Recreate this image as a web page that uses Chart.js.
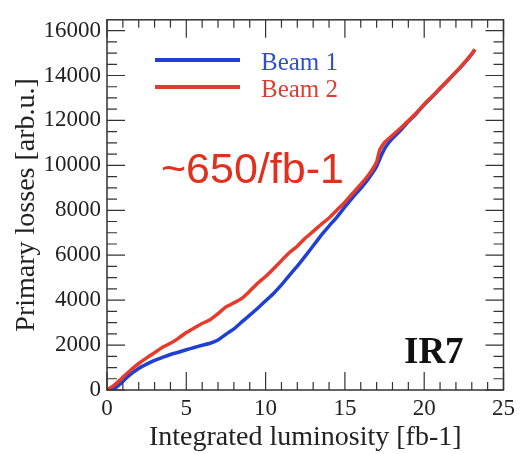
<!DOCTYPE html>
<html>
<head>
<meta charset="utf-8">
<script src="https://cdn.jsdelivr.net/npm/chart.js@4/dist/chart.umd.min.js"></script>
<style>
  html, body { margin: 0; padding: 0; background: #fff; }
  #wrap { width: 520px; height: 454px; }
</style>
</head>
<body>
<div id="wrap"><canvas id="c" width="520" height="454"></canvas></div>
<script>
// Beam 1 (blue) - integrated luminosity vs primary losses
const beam1Lumi = [0, 0.4, 0.8, 1.2, 1.6, 2, 2.5, 3, 3.5, 4, 4.5, 5, 5.5, 6, 6.5, 7, 7.5, 8, 8.5, 9, 9.5, 10, 10.5, 11, 11.5, 12, 12.5, 13, 13.5, 14, 14.5, 15, 15.5, 16, 16.5, 17, 17.3, 17.6, 18, 18.5, 19, 19.5, 20, 20.5, 21, 21.5, 22, 22.5, 23, 23.2];
const beam1Loss = [0, 40, 250, 520, 760, 960, 1150, 1320, 1450, 1580, 1680, 1790, 1890, 1990, 2080, 2230, 2480, 2720, 3030, 3330, 3640, 3970, 4300, 4680, 5100, 5520, 5960, 6420, 6880, 7300, 7700, 8150, 8580, 8980, 9420, 9950, 10450, 10850, 11200, 11550, 11950, 12300, 12700, 13050, 13420, 13780, 14150, 14530, 14950, 15150];

// Beam 2 (red)
const beam2Lumi = [0, 0.4, 0.8, 1.2, 1.6, 2, 2.5, 3, 3.5, 4, 4.5, 5, 5.5, 6, 6.5, 7, 7.5, 8, 8.5, 9, 9.5, 10, 10.5, 11, 11.5, 12, 12.5, 13, 13.5, 14, 14.5, 15, 15.5, 16, 16.5, 17, 17.2, 17.5, 18, 18.5, 19, 19.5, 20, 20.5, 21, 21.5, 22, 22.5, 23, 23.2];
const beam2Loss = [0, 180, 430, 700, 950, 1180, 1430, 1660, 1900, 2080, 2300, 2560, 2760, 2960, 3130, 3400, 3700, 3880, 4080, 4400, 4750, 5050, 5400, 5760, 6120, 6400, 6760, 7060, 7370, 7660, 8010, 8360, 8760, 9150, 9580, 10150, 10700, 11020, 11340, 11650, 11980, 12330, 12720, 13070, 13430, 13790, 14160, 14540, 14960, 15170];

const xTicks = [0, 5, 10, 15, 20, 25];
const yTicks = [0, 2000, 4000, 6000, 8000, 10000, 12000, 14000, 16000];
const seriesNames = ['Beam 1', 'Beam 2'];

const BLUE = '#2040d4';
const RED = '#e63a2b';
const INK = '#222';
const SERIF = '"Liberation Serif", "DejaVu Serif", serif';

function toPoints(xs, ys) {
  return xs.map((x, i) => ({ x: x, y: ys[i] }));
}

// frame with inward ticks on all four sides, plus legend and labels
const framePlugin = {
  id: 'frame',
  afterDraw(chart) {
    const ctx = chart.ctx;
    const a = chart.chartArea;
    const xs = chart.scales.x, ys = chart.scales.y;
    ctx.save();
    ctx.strokeStyle = '#333';
    ctx.lineWidth = 1.5;
    ctx.strokeRect(a.left, a.top, a.right - a.left, a.bottom - a.top);
    ctx.lineWidth = 1.2;
    ctx.beginPath();
    for (let v = 0; v <= 25; v += 1) {
      const px = xs.getPixelForValue(v);
      const len = v % 5 === 0 ? 18 : 8;
      ctx.moveTo(px, a.bottom); ctx.lineTo(px, a.bottom - len);
      ctx.moveTo(px, a.top); ctx.lineTo(px, a.top + len);
    }
    for (let v = 0; v <= 16000; v += 500) {
      const py = ys.getPixelForValue(v);
      const len = v % 2000 === 0 ? 18 : 10;
      ctx.moveTo(a.left, py); ctx.lineTo(a.left + len, py);
      ctx.moveTo(a.right, py); ctx.lineTo(a.right - len, py);
    }
    ctx.stroke();

    // legend
    ctx.lineWidth = 4;
    ctx.strokeStyle = BLUE;
    ctx.beginPath(); ctx.moveTo(155, 60); ctx.lineTo(240, 60); ctx.stroke();
    ctx.strokeStyle = RED;
    ctx.beginPath(); ctx.moveTo(155, 87); ctx.lineTo(240, 87); ctx.stroke();
    ctx.font = '25px ' + SERIF;
    ctx.textBaseline = 'middle';
    ctx.textAlign = 'left';
    ctx.fillStyle = '#3050c8';
    ctx.fillText(seriesNames[0], 261, 63);
    ctx.fillStyle = '#d84030';
    ctx.fillText(seriesNames[1], 261, 90);

    // annotations
    ctx.fillStyle = '#e0301e';
    ctx.font = '43px "Liberation Sans", Arial, sans-serif';
    ctx.fillText('~650/fb-1', 161, 171);
    ctx.fillStyle = '#111';
    ctx.font = 'bold 37px ' + SERIF;
    ctx.fillText('IR7', 404, 353);
    ctx.restore();
  }
};

new Chart(document.getElementById('c'), {
  type: 'scatter',
  data: {
    datasets: [
      {
        label: seriesNames[1],
        data: toPoints(beam2Lumi, beam2Loss),
        showLine: true,
        borderColor: RED,
        borderWidth: 3.5,
        pointRadius: 0,
        tension: 0.1
      },
      {
        label: seriesNames[0],
        data: toPoints(beam1Lumi, beam1Loss),
        showLine: true,
        borderColor: BLUE,
        borderWidth: 3.5,
        pointRadius: 0,
        tension: 0.1
      }
    ]
  },
  options: {
    responsive: false,
    animation: false,
    devicePixelRatio: 1,
    layout: { padding: { left: 0, right: 10, top: 16, bottom: 0 } },
    plugins: {
      legend: { display: false },
      tooltip: { enabled: false }
    },
    scales: {
      x: {
        type: 'linear',
        min: 0,
        max: 25,
        afterBuildTicks: (s) => { s.ticks = xTicks.map(v => ({ value: v })); },
        afterFit: (s) => { s.height = 64; },
        grid: { display: false, drawTicks: false },
        border: { display: false },
        ticks: { color: INK, padding: 5, font: { family: SERIF, size: 23 } },
        title: {
          display: true,
          text: 'Integrated luminosity [fb-1]',
          color: INK,
          padding: { top: 0, bottom: 0 },
          font: { family: SERIF, size: 28 }
        }
      },
      y: {
        type: 'linear',
        min: 0,
        max: 16480,
        afterBuildTicks: (s) => { s.ticks = yTicks.map(v => ({ value: v })); },
        afterFit: (s) => { s.width = 107; },
        grid: { display: false, drawTicks: false },
        border: { display: false },
        ticks: { color: INK, padding: 6, font: { family: SERIF, size: 23 }, callback: (v) => String(v) },
        title: {
          display: true,
          text: 'Primary losses [arb.u.]',
          color: INK,
          padding: { top: 10, bottom: 0 },
          font: { family: SERIF, size: 28 }
        }
      }
    }
  },
  plugins: [framePlugin]
});
</script>
</body>
</html>
